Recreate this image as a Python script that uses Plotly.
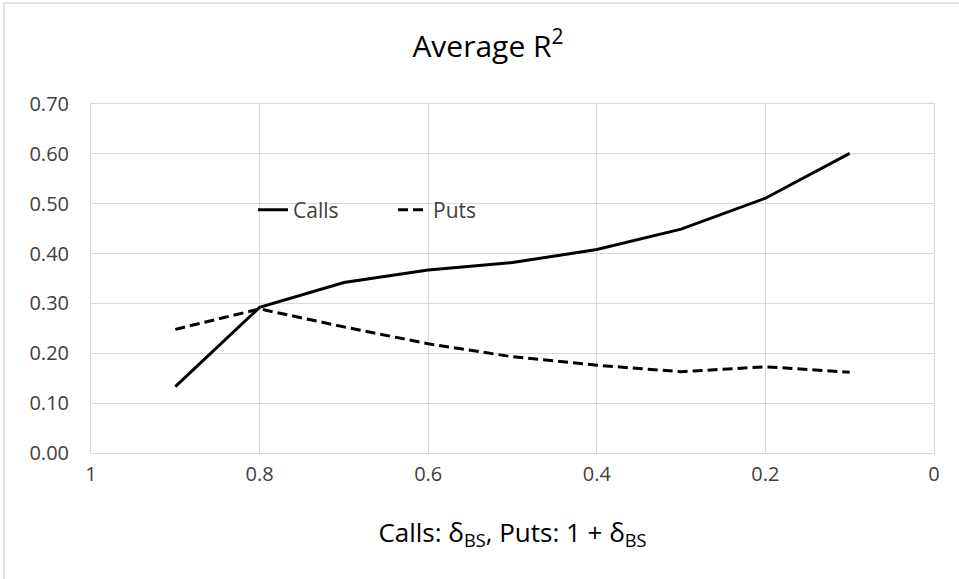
import plotly.graph_objects as go

x_vals = [0.9, 0.8, 0.7, 0.6, 0.5, 0.4, 0.3, 0.2, 0.1]
calls = [0.133, 0.292, 0.342, 0.367, 0.382, 0.408, 0.449, 0.511, 0.601]
puts = [0.248, 0.289, 0.253, 0.219, 0.193, 0.176, 0.163, 0.173, 0.162]
x_ticks = [1, 0.8, 0.6, 0.4, 0.2, 0]
x_tick_labels = ["1", "0.8", "0.6", "0.4", "0.2", "0"]
y_ticks = [0, 0.1, 0.2, 0.3, 0.4, 0.5, 0.6, 0.7]

FONT = "Open Sans, sans-serif"
GRID = "#d9d9d9"
TXT = "#404040"

W, H = 959, 579
L, R, T, B = 91, 25, 104, 126
PW, PH = W - L - R, H - T - B

fig = go.Figure()
fig.add_trace(go.Scatter(x=x_vals, y=calls, mode="lines", name="Calls",
                         line=dict(color="black", width=3)))
fig.add_trace(go.Scatter(x=x_vals, y=puts, mode="lines", name="Puts",
                         line=dict(color="black", width=3, dash="10px,5px")))

fig.update_layout(
    width=W, height=H,
    margin=dict(l=L, r=R, t=T, b=B),
    paper_bgcolor="white", plot_bgcolor="white",
    font=dict(family=FONT, color=TXT),
    title=dict(text="Average R<sup>2</sup>", x=(488 - L) / PW, xref="paper", xanchor="center",
               y=1 - 46 / H, yanchor="middle",
               font=dict(size=30, color="black", family=FONT)),
    showlegend=True,
    legend=dict(orientation="h", x=(253 - L) / PW, xanchor="left",
                y=(453 - 210) / PH, yanchor="middle",
                bgcolor="rgba(0,0,0,0)", font=dict(size=21, color=TXT),
                entrywidth=95, entrywidthmode="pixels", tracegroupgap=0),
    shapes=[dict(type="rect", xref="paper", yref="paper",
                 x0=-(L - 4) / PW, x1=(W - L + 5) / PW,
                 y0=-(B + 5) / PH, y1=(PH + T - 3) / PH,
                 line=dict(color="#d9d9d9", width=1.5), layer="below")],
)

fig.update_xaxes(range=[1, 0], tickvals=x_ticks, ticktext=x_tick_labels,
                 showgrid=True, gridcolor=GRID, gridwidth=1,
                 showline=True, linecolor=GRID, linewidth=1, mirror=True,
                 zeroline=False, ticks="", ticklen=0, ticklabelstandoff=3,
                 tickfont=dict(size=20, color=TXT),
                 title=dict(text="Calls: δ<sub>BS</sub>, Puts: 1 + δ<sub>BS</sub>",
                            font=dict(size=26, color="black"), standoff=37))
fig.update_yaxes(range=[0, 0.7], tickvals=y_ticks, tickformat=".2f",
                 showgrid=True, gridcolor=GRID, gridwidth=1,
                 showline=True, linecolor=GRID, linewidth=1, mirror=True,
                 zeroline=False, ticks="", ticklen=0, ticklabelstandoff=17,
                 tickfont=dict(size=20, color=TXT))

fig.write_html("out.html", config={"displayModeBar": False},
               post_script="document.body.style.margin='0';")
